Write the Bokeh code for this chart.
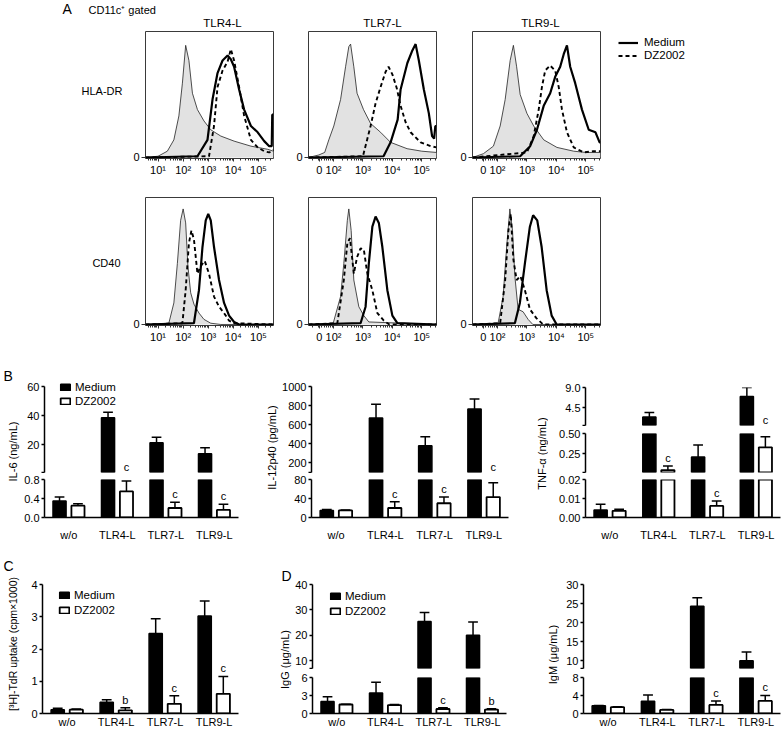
import numpy as np
from bokeh.plotting import figure
from bokeh.layouts import row, column
from bokeh.models import Range1d, FixedTicker, Legend, LegendItem, LabelSet, ColumnDataSource
from bokeh.core.properties import value
from bokeh.embed import file_html
from bokeh.resources import INLINE

FONT = "Liberation Sans"

# ================= Panel A : flow cytometry histograms =================
A_COLS = ["TLR4-L", "TLR7-L", "TLR9-L"]
A_ROWS = ["HLA-DR", "CD40"]
SERIES = ["Medium", "DZ2002"]
LOG_TICKS = [1, 2, 3, 4, 5]
LOG_LABELS = ["10¹", "10²", "10³", "10⁴", "10⁵"]
BX_TICKS = [1.52, 2, 3, 4, 5]
BX_LABELS = ["0", "10²", "10³", "10⁴", "10⁵"]

# HLA-DR, TLR4-L (x: log10 fluorescence, y: % of max)
HLA4_ISO_X = [0.5, 1.0, 1.37, 1.63, 1.83, 1.97, 2.1, 2.23, 2.37, 2.57, 2.83, 3.1, 3.5, 4.03, 4.7, 5.37, 5.6]
HLA4_ISO_Y = [0, 1, 5, 14, 33, 59, 89, 77, 51, 38, 29, 22, 17, 13, 9, 6.5, 5]
HLA4_MED_X = [0.5, 2.57, 2.97, 3.17, 3.37, 3.57, 3.77, 3.9, 4.03, 4.23, 4.43, 4.7, 4.97, 5.23, 5.43, 5.53, 5.55, 5.6]
HLA4_MED_Y = [0, 1, 14, 46, 67, 77, 81, 78, 72, 54, 38, 25, 20, 13, 9, 9, 34, 34]
HLA4_DZ_X = [0.5, 3.03, 3.23, 3.37, 3.57, 3.77, 3.9, 4.03, 4.23, 4.43, 4.7, 4.97, 5.23, 5.43, 5.6]
HLA4_DZ_Y = [0, 1, 25, 56, 69, 76, 86, 77, 56, 33, 14, 8, 5, 4, 6]
# HLA-DR, TLR7-L (biexponential decades)
HLA7_ISO_X = [1.15, 1.5, 1.7, 1.84, 2.01, 2.24, 2.41, 2.52, 2.58, 2.69, 2.8, 3.02, 3.26, 3.6, 3.94, 4.5, 5.0, 5.5]
HLA7_ISO_Y = [0, 2, 4, 14, 25, 46, 72, 88, 90, 72, 51, 38, 27, 20, 12, 7, 5, 4]
HLA7_MED_X = [1.15, 3.7, 3.94, 4.18, 4.28, 4.51, 4.68, 4.79, 4.9, 5.07, 5.24, 5.35, 5.42, 5.46, 5.5]
HLA7_MED_Y = [0, 1, 12, 30, 54, 75, 85, 90, 77, 54, 35, 17, 15, 25, 25]
HLA7_DZ_X = [1.15, 3.0, 3.26, 3.43, 3.6, 3.77, 3.87, 4.0, 4.15, 4.28, 4.45, 4.62, 4.96, 5.3, 5.5]
HLA7_DZ_Y = [0, 1, 25, 43, 56, 68, 72, 66, 55, 41, 28, 20, 12, 9, 8]
# HLA-DR, TLR9-L
HLA9_ISO_X = [1.15, 1.52, 1.86, 2.09, 2.26, 2.43, 2.54, 2.65, 2.77, 3.0, 3.23, 3.57, 4.02, 4.59, 5.0, 5.5]
HLA9_ISO_Y = [0, 3, 9, 25, 46, 77, 89, 72, 50, 35, 25, 14, 8, 5, 4, 4]
HLA9_MED_X = [1.15, 2.77, 3.11, 3.34, 3.57, 3.79, 3.96, 4.13, 4.25, 4.36, 4.47, 4.64, 4.87, 5.1, 5.33, 5.47, 5.5]
HLA9_MED_Y = [0, 1, 9, 22, 41, 51, 64, 72, 82, 89, 72, 59, 38, 22, 20, 12, 12]
HLA9_DZ_X = [1.15, 3.0, 3.23, 3.4, 3.51, 3.62, 3.79, 3.96, 4.08, 4.19, 4.36, 4.59, 4.93, 5.25, 5.5]
HLA9_DZ_Y = [0, 4, 17, 38, 56, 69, 73, 69, 56, 38, 20, 8, 4, 5, 5]
# CD40, TLR4-L
CD4_ISO_X = [0.5, 1.43, 1.63, 1.77, 1.9, 2.0, 2.1, 2.19, 2.3, 2.43, 2.63, 2.83, 3.1, 3.5, 5.6]
CD4_ISO_Y = [0, 1, 17, 48, 82, 91, 80, 46, 25, 16, 9, 4, 1, 0, 0]
CD4_MED_X = [0.5, 2.43, 2.63, 2.77, 2.9, 3.0, 3.1, 3.23, 3.43, 3.63, 3.83, 4.03, 4.23, 5.6]
CD4_MED_Y = [0, 1, 27, 61, 82, 87, 82, 61, 35, 17, 7, 2, 0, 0]
CD4_DZ_X = [0.5, 1.97, 2.1, 2.23, 2.33, 2.43, 2.57, 2.7, 2.86, 3.03, 3.23, 3.43, 3.63, 3.83, 4.03, 5.6]
CD4_DZ_Y = [0, 1, 27, 64, 74, 67, 40, 46, 50, 40, 22, 14, 9, 3, 1, 0]
# CD40, TLR7-L
CD7_ISO_X = [1.15, 1.99, 2.24, 2.35, 2.47, 2.52, 2.6, 2.69, 2.86, 3.03, 3.2, 5.5]
CD7_ISO_Y = [0, 1, 22, 48, 82, 91, 74, 35, 14, 7, 2, 0]
CD7_MED_X = [1.15, 2.92, 3.09, 3.2, 3.32, 3.43, 3.54, 3.66, 3.83, 4.0, 4.17, 5.5]
CD7_MED_Y = [0, 1, 14, 48, 77, 85, 80, 61, 27, 7, 1, 0]
CD7_DZ_X = [1.15, 2.13, 2.35, 2.47, 2.56, 2.69, 2.8, 2.92, 3.03, 3.15, 3.32, 3.49, 3.71, 3.9, 5.5]
CD7_DZ_Y = [0, 1, 35, 64, 68, 40, 53, 60, 59, 40, 27, 9, 3, 0, 0]
# CD40, TLR9-L
CD9_ISO_X = [1.15, 2.02, 2.19, 2.31, 2.42, 2.51, 2.59, 2.7, 2.87, 3.04, 3.2, 5.5]
CD9_ISO_Y = [0, 1, 22, 61, 91, 74, 38, 12, 10, 4, 0, 0]
CD9_MED_X = [1.15, 2.59, 2.76, 2.93, 3.1, 3.21, 3.35, 3.5, 3.67, 3.84, 4.01, 5.5]
CD9_MED_Y = [0, 1, 17, 48, 77, 86, 82, 61, 27, 7, 0, 0]
CD9_DZ_X = [1.15, 2.09, 2.26, 2.37, 2.45, 2.54, 2.65, 2.78, 2.93, 3.1, 3.32, 3.55, 5.5]
CD9_DZ_Y = [0, 1, 35, 74, 87, 51, 35, 38, 27, 12, 5, 0, 0]

# ================= Panels B-D : bar charts =================
CATS = ["w/o", "TLR4-L", "TLR7-L", "TLR9-L"]

IL6_MED = [0.35, 38.5, 21.4, 13.8]
IL6_MED_ERR = [0.43, 42.4, 25.2, 18.0]
IL6_DZ = [0.25, 0.55, 0.20, 0.16]
IL6_DZ_ERR = [0.29, 0.77, 0.32, 0.28]
IL6_SIG = ["", "c", "c", "c"]
IL6_UP_TICKS, IL6_UP_LABELS = [1, 20, 40, 60], ["", "20", "40", "60"]
IL6_LO_TICKS, IL6_LO_LABELS = [0, 0.4, 0.8], ["0.0", "0.4", "0.8"]

IL12_MED = [15, 670, 380, 765]
IL12_MED_ERR = [17, 815, 475, 868]
IL12_DZ = [15, 20, 30, 43]
IL12_DZ_ERR = [16, 33, 43, 73]
IL12_SIG = ["", "c", "c", "c"]
IL12_UP_TICKS, IL12_UP_LABELS = [100, 200, 400, 600, 800, 1000], ["", "200", "400", "600", "800", "1000"]
IL12_LO_TICKS, IL12_LO_LABELS = [0, 40, 80], ["0", "40", "80"]

TNF_MED = [0.004, 2.4, 0.21, 7.0]
TNF_MED_ERR = [0.007, 3.4, 0.36, 9.0]
TNF_DZ = [0.0035, 0.05, 0.0061, 0.33]
TNF_DZ_ERR = [0.0044, 0.10, 0.0087, 0.46]
TNF_SIG = ["", "c", "c", "c"]
TNF_TOP_TICKS, TNF_TOP_LABELS = [0.5, 4.5, 9.0], ["", "4.5", "9.0"]
TNF_MID_TICKS, TNF_MID_LABELS = [0.02, 0.25, 0.5], ["", "0.25", "0.50"]
TNF_LO_TICKS, TNF_LO_LABELS = [0, 0.01, 0.02], ["0.00", "0.01", "0.02"]

TDR_MED = [0.12, 0.35, 2.48, 3.02]
TDR_MED_ERR = [0.16, 0.43, 2.94, 3.49]
TDR_DZ = [0.12, 0.10, 0.30, 0.61]
TDR_DZ_ERR = [0.14, 0.18, 0.55, 1.15]
TDR_SIG = ["", "b", "c", "c"]
TDR_TICKS, TDR_LABELS = [0, 1, 2, 3, 4], ["0", "1", "2", "3", "4"]

IGG_MED = [2.0, 3.4, 25.5, 20.1]
IGG_MED_ERR = [2.8, 5.2, 29.0, 25.3]
IGG_DZ = [1.5, 1.4, 0.75, 0.65]
IGG_DZ_ERR = [1.55, 1.5, 0.95, 0.8]
IGG_SIG = ["", "", "c", "b"]
IGG_UP_TICKS, IGG_UP_LABELS = [7, 10, 20, 30, 40], ["", "10", "20", "30", "40"]
IGG_LO_TICKS, IGG_LO_LABELS = [0, 3, 6], ["0", "3", "6"]

IGM_MED = [1.7, 2.7, 24.3, 10.0]
IGM_MED_ERR = [1.8, 4.1, 26.5, 12.3]
IGM_DZ = [1.4, 0.8, 1.9, 2.8]
IGM_DZ_ERR = [1.5, 0.9, 2.8, 4.0]
IGM_SIG = ["", "", "c", "c"]
IGM_UP_TICKS, IGM_UP_LABELS = [8, 10, 15, 20, 25, 30], ["", "10", "15", "20", "25", "30"]
IGM_LO_TICKS, IGM_LO_LABELS = [0, 4, 8], ["0", "4", "8"]


# ---------------- helpers ----------------
def blank(w, h):
    p = figure(width=w, height=h, x_range=Range1d(0, w), y_range=Range1d(h, 0),
               x_axis_location=None, y_axis_location=None,
               output_backend="svg", toolbar_location=None, min_border=0)
    p.grid.visible = False
    p.outline_line_color = None
    return p


def txt(p, x, y, s, size=11, align="left", baseline="middle", angle=0.0):
    p.text(x=[x], y=[y], text=[s], text_font=value(FONT), text_font_size=f"{size}px",
           text_align=align, text_baseline=baseline, angle=angle, text_color="black")


MINOR = [d + np.log10(k) for d in range(0, 6) for k in range(2, 10)]


def make_legend(items, loc, gw, gh, lh, standoff):
    return Legend(items=[LegendItem(label=lab, renderers=[r]) for lab, r in items],
                  location=loc, glyph_width=gw, glyph_height=gh, label_height=lh,
                  spacing=0, padding=0, margin=0, label_standoff=standoff,
                  border_line_color=None, background_fill_alpha=0, inactive_fill_alpha=0,
                  label_text_font=FONT, label_text_font_size="11.5px", label_text_color="black")


MED_LINE = dict(line_color="black", line_width=2.2)
DZ_LINE = dict(line_color="black", line_width=1.9, line_dash="4 3")


def hist_fig(w, h, bl, br, bt, bb, xr, ticks, labels, iso, med, dz):
    p = figure(width=w, height=h, x_range=Range1d(*xr), y_range=Range1d(-0.8, 100),
               min_border_left=bl, min_border_right=br, min_border_top=bt, min_border_bottom=bb,
               output_backend="svg", toolbar_location=None)
    p.grid.visible = False
    p.outline_line_color = "#3a3a3a"
    p.outline_line_width = 1
    p.varea(x=iso[0], y1=0, y2=iso[1], fill_color="#e2e2e2")
    p.line(iso[0], iso[1], line_color="#222222", line_width=0.8)
    p.line(med[0], med[1], **MED_LINE)
    p.line(dz[0], dz[1], **DZ_LINE)
    xa = p.xaxis[0]
    xa.ticker = FixedTicker(ticks=ticks, minor_ticks=[m for m in MINOR if xr[0] < m < xr[1]])
    xa.major_label_overrides = dict(zip(ticks, labels))
    xa.axis_line_color = None
    xa.major_tick_out, xa.major_tick_in = 3, 0
    xa.minor_tick_out, xa.minor_tick_in = 2, 0
    xa.major_label_standoff = 2
    ya = p.yaxis[0]
    ya.ticker = FixedTicker(ticks=[0], minor_ticks=[])
    ya.major_label_overrides = {0: "0"}
    ya.axis_line_color = None
    ya.major_tick_out, ya.major_tick_in = 4, 0
    ya.major_label_standoff = 2
    for ax in (xa, ya):
        ax.major_label_text_font = FONT
        ax.major_label_text_font_size = "11px"
        ax.major_label_text_color = "black"
        ax.major_tick_line_color = "#333333"
        ax.minor_tick_line_color = "#333333"
    return p


LETTER_H = 12


def bar_chart(width, bl, br, segs, med, med_e, dz, dz_e, sig, x_standoff,
              legend_xy=None, legend_lh=14, top_pad=0):
    xr = Range1d(-0.5, 3.5)
    idx = np.arange(len(CATS), dtype=float)
    xm, xd = idx - 0.19, idx + 0.19
    med, med_e, dz, dz_e = map(np.asarray, (med, med_e, dz, dz_e))
    n = len(segs)
    fh = [s[4] - s[5] - s[6] for s in segs]
    base, c_lo, c_hi = [0] * n, [0] * n, [0] * n
    for k in reversed(range(n)):
        bt, bb = segs[k][5], segs[k][6]
        c_lo[k] = -bb if k == n - 1 else c_hi[k + 1]
        base[k] = c_lo[k] + bb
        c_hi[k] = base[k] + fh[k] + bt

    # significance letters: pixel height above the lowest frame bottom
    letters = {k: [] for k in range(n)}
    for i in range(len(CATS)):
        if not sig[i]:
            continue
        e, px = dz_e[i], None
        for k in range(n):
            lo, hi = segs[k][0], segs[k][1]
            if lo <= e <= hi:
                px = base[k] + (e - lo) / (hi - lo) * (fh[k] - (top_pad if k == 0 else 0))
                break
        if px is None:
            for k in reversed(range(n)):
                if e > segs[k][1]:
                    px = base[k] + fh[k]
        b = px + 2
        for k in range(1, n):
            if b < c_lo[k - 1] < b + LETTER_H:
                b = c_lo[k - 1] + 1
        for k in range(n):
            if c_lo[k] <= b and b + LETTER_H <= c_hi[k] + 2:
                letters[k].append((xd[i], segs[k][0], b - base[k], sig[i]))
                break

    figs = []
    for k, (lo, hi, ticks, labels, h, bt, bb) in enumerate(segs):
        last = k == n - 1
        pad = top_pad if k == 0 else 0
        y_hi = hi + pad * (hi - lo) / (fh[k] - pad) if pad else hi
        p = figure(width=width, height=h, x_range=xr, y_range=Range1d(lo, y_hi),
                   min_border_left=bl, min_border_right=br, min_border_top=bt, min_border_bottom=bb,
                   x_axis_location="below" if last else None,
                   output_backend="svg", toolbar_location=None)
        p.grid.visible = False
        p.outline_line_color = None
        for xs, v, e in ((xm, med, med_e), (xd, dz, dz_e)):
            ms = (e > lo) & (v < hi)
            p.segment(x0=xs[ms], y0=v[ms], x1=xs[ms], y1=e[ms], line_color="black", line_width=1.5)
            mc = (e >= lo) & (e <= hi)
            p.segment(x0=xs[mc] - 0.1, y0=e[mc], x1=xs[mc] + 0.1, y1=e[mc],
                      line_color="black", line_width=1.5)
        mm, md = med > lo, dz > lo
        med_style = dict(width=0.27, fill_color="black", line_color="black", line_width=1.5)
        dz_style = dict(width=0.27, fill_color="white", line_color="black", line_width=1.8)
        p.vbar(x=xm[mm], top=med[mm], bottom=0, **med_style)
        p.vbar(x=xd[md], top=dz[md], bottom=0, **dz_style)
        if letters[k]:
            src = ColumnDataSource(dict(x=[t[0] for t in letters[k]], y=[t[1] for t in letters[k]],
                                        off=[t[2] for t in letters[k]], t=[t[3] for t in letters[k]]))
            p.add_layout(LabelSet(x="x", y="y", y_offset="off", text="t", source=src,
                                  text_align="center", text_baseline="bottom",
                                  text_font=value(FONT), text_font_size="11px", text_color="black"))
        ya = p.yaxis[0]
        ya.ticker = FixedTicker(ticks=ticks, minor_ticks=[])
        ya.major_label_overrides = dict(zip(ticks, labels))
        ya.bounds = (lo, hi)
        ya.axis_line_width = 1.5
        ya.major_tick_line_width = 1.5
        ya.major_tick_out, ya.major_tick_in = 3, 0
        ya.major_label_standoff = 2
        ya.major_label_text_font = FONT
        ya.major_label_text_font_size = "11px"
        ya.major_label_text_color = "black"
        if last:
            xa = p.xaxis[0]
            xa.ticker = FixedTicker(ticks=list(range(len(CATS))), minor_ticks=[])
            xa.major_label_overrides = {i: c for i, c in enumerate(CATS)}
            xa.major_tick_line_color = None
            xa.major_tick_out, xa.major_tick_in = 0, 0
            xa.major_label_standoff = x_standoff
            xa.axis_line_width = 1.5
            xa.major_label_text_font = FONT
            xa.major_label_text_font_size = "11px"
            xa.major_label_text_color = "black"
        if k == 0 and legend_xy is not None:
            # hidden full-data renderers supply the legend swatches
            lm = p.vbar(x=xm, top=med, bottom=0, visible=False, **med_style)
            ld = p.vbar(x=xd, top=dz, bottom=0, visible=False, **dz_style)
            p.add_layout(make_legend([(SERIES[0], lm), (SERIES[1], ld)], legend_xy, 12, 8, legend_lh, 4))
        figs.append(p)
    return column(*figs)


# ---------------- Panel A layout ----------------
strip = blank(782, 28)
txt(strip, 62, 8, "A", 14)
txt(strip, 88, 9, "CD11c⁺ gated", 11)
for cx, t in zip([222, 382, 540], A_COLS):
    txt(strip, cx, 22.5, t, 11.5, align="center")

col0 = blank(125, 317)
txt(col0, 122, 62, A_ROWS[0], 11, align="right")
txt(col0, 120, 234, A_ROWS[1], 11, align="right")

XR_LOG = (0.5, 5.6)
XR_BX = (1.15, 5.5)
h1a = hist_fig(163, 150, 20, 15, 3, 20, XR_LOG, LOG_TICKS, LOG_LABELS,
               (HLA4_ISO_X, HLA4_ISO_Y), (HLA4_MED_X, HLA4_MED_Y), (HLA4_DZ_X, HLA4_DZ_Y))
h1b = hist_fig(163, 167, 20, 15, 19, 20, XR_LOG, LOG_TICKS, LOG_LABELS,
               (CD4_ISO_X, CD4_ISO_Y), (CD4_MED_X, CD4_MED_Y), (CD4_DZ_X, CD4_DZ_Y))
h2a = hist_fig(164, 150, 20, 16, 3, 20, XR_BX, BX_TICKS, BX_LABELS,
               (HLA7_ISO_X, HLA7_ISO_Y), (HLA7_MED_X, HLA7_MED_Y), (HLA7_DZ_X, HLA7_DZ_Y))
h2b = hist_fig(164, 167, 20, 16, 19, 20, XR_BX, BX_TICKS, BX_LABELS,
               (CD7_ISO_X, CD7_ISO_Y), (CD7_MED_X, CD7_MED_Y), (CD7_DZ_X, CD7_DZ_Y))
h3a = hist_fig(150, 150, 20, 2, 3, 20, XR_BX, BX_TICKS, BX_LABELS,
               (HLA9_ISO_X, HLA9_ISO_Y), (HLA9_MED_X, HLA9_MED_Y), (HLA9_DZ_X, HLA9_DZ_Y))
h3b = hist_fig(150, 167, 20, 2, 19, 20, XR_BX, BX_TICKS, BX_LABELS,
               (CD9_ISO_X, CD9_ISO_Y), (CD9_MED_X, CD9_MED_Y), (CD9_DZ_X, CD9_DZ_Y))

# legend panel for A (swatches come from hidden copies of the TLR9-L curves);
# its frame is aligned with the neighbouring histogram frame by the row layout
legA = blank(110, 150)
lm_a = legA.line(HLA9_MED_X, HLA9_MED_Y, visible=False, **MED_LINE)
ld_a = legA.line(HLA9_DZ_X, HLA9_DZ_Y, visible=False, **DZ_LINE)
legA.add_layout(make_legend([(SERIES[0], lm_a), (SERIES[1], ld_a)], (16, 96.5), 20, 13, 13, 6))

rowA = row(col0, column(h1a, h1b), column(h2a, h2b), column(row(h3a, legA), h3b))

# ---------------- Panel B ----------------
lbB1 = blank(21, 200)
txt(lbB1, 3, 30, "B", 14)
txt(lbB1, 12, 106, "IL-6 (ng/mL)", 11, align="center", angle=np.pi / 2)
chart_il6 = bar_chart(243, 21, 26,
                      [(1, 60, IL6_UP_TICKS, IL6_UP_LABELS, 128, 35, 1),
                       (0, 0.8, IL6_LO_TICKS, IL6_LO_LABELS, 72, 6, 28)],
                      IL6_MED, IL6_MED_ERR, IL6_DZ, IL6_DZ_ERR, IL6_SIG, 11,
                      legend_xy=(15, 64), top_pad=6)
lbB2 = blank(15, 200)
txt(lbB2, 7.5, 102, "IL-12p40 (pg/mL)", 11, align="center", angle=np.pi / 2)
chart_il12 = bar_chart(256, 31, 27,
                       [(100, 1000, IL12_UP_TICKS, IL12_UP_LABELS, 128, 41, 1),
                        (0, 80, IL12_LO_TICKS, IL12_LO_LABELS, 72, 6, 28)],
                       IL12_MED, IL12_MED_ERR, IL12_DZ, IL12_DZ_ERR, IL12_SIG, 11)
lbB3 = blank(13, 200)
txt(lbB3, 6.5, 108, "TNF-α (ng/mL)", 11, align="center", angle=np.pi / 2)
chart_tnf = bar_chart(234, 37, 2,
                      [(0.5, 9.0, TNF_TOP_TICKS, TNF_TOP_LABELS, 81, 42, 1),
                       (0.02, 0.5, TNF_MID_TICKS, TNF_MID_LABELS, 47, 7, 1),
                       (0, 0.02, TNF_LO_TICKS, TNF_LO_LABELS, 72, 6, 28)],
                      TNF_MED, TNF_MED_ERR, TNF_DZ, TNF_DZ_ERR, TNF_SIG, 11)
rowB = row(lbB1, chart_il6, lbB2, chart_il12, lbB3, chart_tnf)

# ---------------- Panels C & D ----------------
lbC = blank(21, 185)
txt(lbC, 3, 20, "C", 14)
txt(lbC, 12, 98.5, "[³H]-TdR uptake (cpm×1000)", 10.5, align="center", angle=np.pi / 2)
chart_tdr = bar_chart(253, 21, 36,
                      [(0, 4, TDR_TICKS, TDR_LABELS, 185, 39, 16)],
                      TDR_MED, TDR_MED_ERR, TDR_DZ, TDR_DZ_ERR, TDR_SIG, 2,
                      legend_xy=(16, 96), legend_lh=15)
lbD = blank(18, 185)
txt(lbD, 7, 30, "D", 14)
txt(lbD, 10.5, 114, "IgG (μg/mL)", 11, align="center", angle=np.pi / 2)
chart_igg = bar_chart(254, 20, 40,
                      [(7, 40, IGG_UP_TICKS, IGG_UP_LABELS, 124, 39, 1),
                       (0, 6, IGG_LO_TICKS, IGG_LO_LABELS, 61, 8, 16)],
                      IGG_MED, IGG_MED_ERR, IGG_DZ, IGG_DZ_ERR, IGG_SIG, 2,
                      legend_xy=(17, 50), legend_lh=15)
lbM = blank(13, 185)
txt(lbM, 6.5, 109, "IgM (μg/mL)", 11, align="center", angle=np.pi / 2)
chart_igm = bar_chart(223, 24, 2,
                      [(8, 30, IGM_UP_TICKS, IGM_UP_LABELS, 124, 39, 1),
                       (0, 8, IGM_LO_TICKS, IGM_LO_LABELS, 61, 8, 16)],
                      IGM_MED, IGM_MED_ERR, IGM_DZ, IGM_DZ_ERR, IGM_SIG, 2)
rowCD = row(lbC, chart_tdr, lbD, chart_igg, lbM, chart_igm)

layout = column(strip, rowA, rowB, rowCD)

with open("out.html", "w") as f:
    f.write(file_html(layout, INLINE, title="DZ2002 TLR figure"))
